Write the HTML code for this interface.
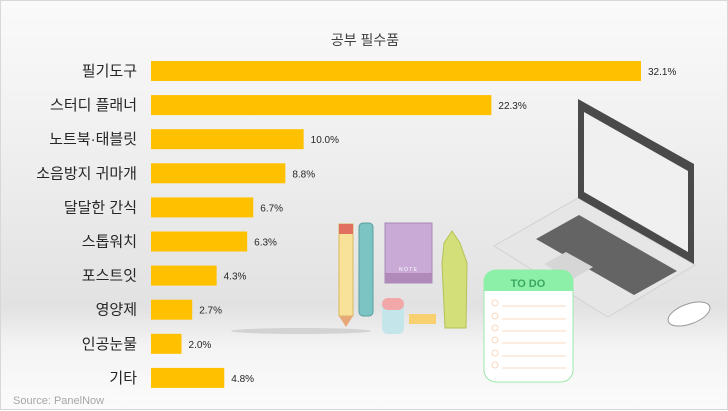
<!DOCTYPE html>
<html><head><meta charset="utf-8"><style>
html,body{margin:0;padding:0}
body{width:728px;height:410px;overflow:hidden;font-family:"Liberation Sans","Noto Sans CJK KR",sans-serif}
#c{position:absolute;left:0;top:0;width:728px;height:410px;box-sizing:border-box;border:1px solid #d8d8d8;
background:linear-gradient(#fafafa 0%,#f1f1f1 30%,#e2e2e2 75%,#f4f4f4 85%,#fbfbfb 100%)}
#s{position:absolute;left:0;top:0}
</style></head><body>
<div id="c">
<svg id="s" width="728" height="410" xmlns="http://www.w3.org/2000/svg">
<g>
 <polygon points="493,245 577,197 694,264 607,316" fill="#e6e6e6" stroke="#d2d2d2"/>
 <polygon points="535,238 578,214 676,270 633,294" fill="#555" opacity="0.9"/>
 <polygon points="543,263 565,251 592,266 570,279" fill="#d6d6d6"/>
 <polygon points="577,98 693,163 693,263 577,197" fill="#4a4a4a"/>
 <polygon points="583,111 687,170 687,251 583,191" fill="#f0f0f0"/>
 <ellipse cx="688" cy="313" rx="22" ry="10" transform="rotate(-20 688 313)" fill="#fff" stroke="#999"/>
 <ellipse cx="300" cy="330" rx="70" ry="3" fill="#c8c8c8" opacity="0.7"/>
 <rect x="338" y="223" width="14" height="92" fill="#f8e29a" stroke="#d8b860"/>
 <rect x="338" y="223" width="14" height="10" fill="#e27060"/>
 <polygon points="338,315 352,315 345,326" fill="#e8a878"/>
 <rect x="358" y="222" width="14" height="93" rx="4" fill="#7cc4c4" stroke="#5a9e9e"/>
 <rect x="384" y="222" width="47" height="60" fill="#c9a9d6" stroke="#a888b8"/>
 <rect x="384" y="272" width="47" height="10" fill="#b08ab8"/>
 <text x="407" y="270" font-size="5" fill="#fff" text-anchor="middle">N O T E</text>
 <path d="M443,242 L451,230 L459,242 L466,262 L465,327 L444,327 L441,262 Z" fill="#d3df78" stroke="#b5c258"/>
 <rect x="381" y="300" width="22" height="33" rx="6" fill="#c4e6ea"/>
 <rect x="381" y="297" width="22" height="12" rx="6" fill="#f2a8a8"/>
 <rect x="408" y="313" width="27" height="10" fill="#f8d070"/>
 <g>
  <rect x="483" y="269" width="89" height="112" rx="12" fill="#fff" stroke="#9be8a8"/>
  <path d="M483,290 L483,281 Q483,269 495,269 L560,269 Q572,269 572,281 L572,290 Z" fill="#8df0a8"/>
  <text x="527" y="286" font-size="11" font-weight="bold" fill="#3aa860" text-anchor="middle">TO DO</text>
  <g stroke="#fbd8c0" fill="none">
   <circle cx="494" cy="302" r="3"/><line x1="501" y1="305" x2="565" y2="305"/>
   <circle cx="494" cy="315" r="3"/><line x1="501" y1="318" x2="565" y2="318"/>
   <circle cx="494" cy="327" r="3"/><line x1="501" y1="330" x2="565" y2="330"/>
   <circle cx="494" cy="339" r="3"/><line x1="501" y1="342" x2="565" y2="342"/>
   <circle cx="494" cy="352" r="3"/><line x1="501" y1="355" x2="565" y2="355"/>
   <circle cx="494" cy="364" r="3"/><line x1="501" y1="367" x2="565" y2="367"/>
  </g>
 </g>
</g>
<text x="364" y="44" font-size="14" fill="#404040" text-anchor="middle">공부 필수품</text>
<g id="bars"></g>
<text x="12" y="403" font-size="11" fill="#a6a6a6">Source: PanelNow</text>
</svg>
</div>
<script>
const categories = ["필기도구","스터디 플래너","노트북·태블릿","소음방지 귀마개","달달한 간식","스톱워치","포스트잇","영양제","인공눈물","기타"];
const values = [32.1,22.3,10.0,8.8,6.7,6.3,4.3,2.7,2.0,4.8];
const valueLabels = ["32.1%","22.3%","10.0%","8.8%","6.7%","6.3%","4.3%","2.7%","2.0%","4.8%"];
const NS="http://www.w3.org/2000/svg";
const x0=150, pxPer=490/32.1, y0=60, step=34.1, bh=20;
function xs(v){return x0+v*pxPer;}
function ys(i){return y0+i*step;}
const g=document.getElementById('bars');
categories.forEach((c,i)=>{
  const y=ys(i);
  const t=document.createElementNS(NS,'text');
  t.setAttribute('x',136);t.setAttribute('y',y+15);t.setAttribute('font-size','15');
  t.setAttribute('fill','#262626');t.setAttribute('text-anchor','end');t.textContent=c;
  
  
  g.appendChild(t);
  const r=document.createElementNS(NS,'rect');
  r.setAttribute('x',x0);r.setAttribute('y',y);r.setAttribute('width',xs(values[i])-x0);r.setAttribute('height',bh);
  r.setAttribute('fill','#ffc000');
  
  
  g.appendChild(r);
  const v=document.createElementNS(NS,'text');
  v.setAttribute('x',xs(values[i])+7);v.setAttribute('y',y+14);v.setAttribute('font-size','10');
  v.setAttribute('fill','#262626');v.textContent=valueLabels[i];
  
  
  g.appendChild(v);
});
</script>
</body></html>
